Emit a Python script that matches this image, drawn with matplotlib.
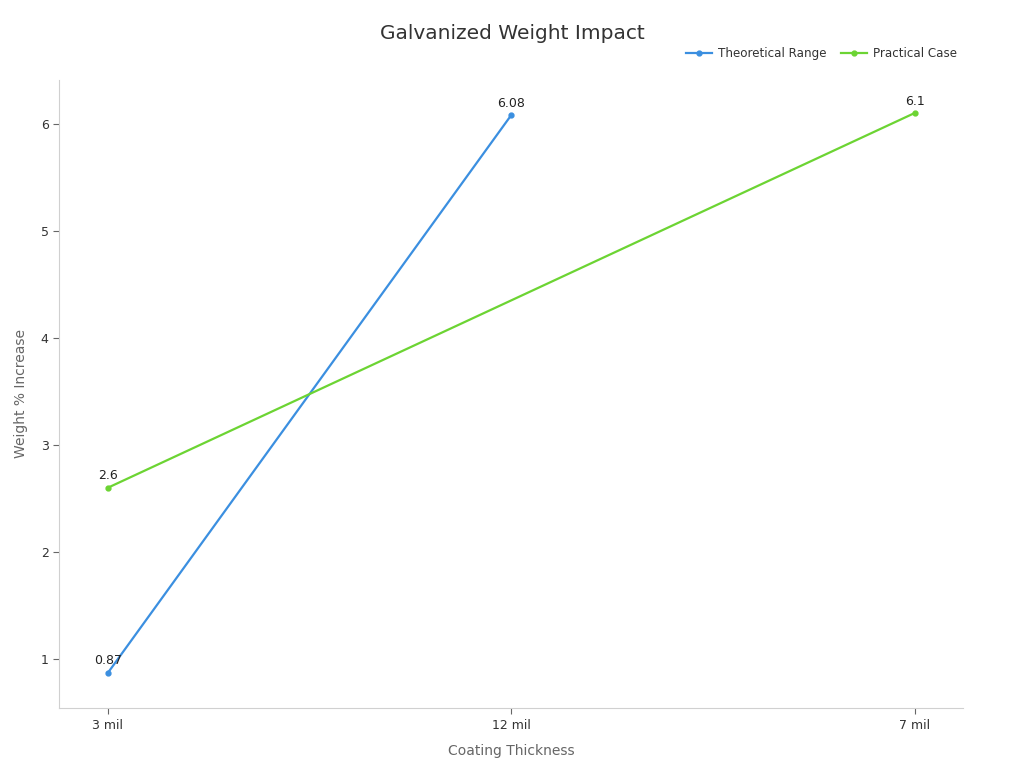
import numpy as np
from matplotlib import pyplot as plt

# Data
categories = ['3 mil', '12 mil', '7 mil']
theoretical = [0.87, 6.08, None]
practical = [2.6, None, 6.1]

blue = '#3b8fe0'
green = '#6cd433'

def points(values):
    xs = [i for i, v in enumerate(values) if v is not None]
    ys = [v for v in values if v is not None]
    return xs, ys

fig = plt.figure(figsize=(10.24, 7.68), dpi=100)
ax = fig.add_axes([0.0576, 0.078, 0.8828, 0.818])

for values, color, name in [(theoretical, blue, 'Theoretical Range'),
                            (practical, green, 'Practical Case')]:
    xs, ys = points(values)
    ax.plot(xs, ys, '-o', color=color, lw=1.6, ms=3.5, label=name)
    for x, y in zip(xs, ys):
        ax.annotate('%g' % y, (x, y), xytext=(0, 4), textcoords='offset points',
                    ha='center', va='bottom', fontsize=9, color='#222222')

ax.set_xticks(range(len(categories)))
ax.set_xticklabels(categories)
ax.set_xlim(-0.121, 2.12)
ax.set_ylim(0.542, 6.41)
ax.set_yticks([1, 2, 3, 4, 5, 6])

for side in ['top', 'right']:
    ax.spines[side].set_visible(False)
for side in ['left', 'bottom']:
    ax.spines[side].set_color('#d0d0d0')
ax.tick_params(colors='#333333', labelsize=9, length=4)
ax.tick_params(axis='both', color='#666666')

ax.set_xlabel('Coating Thickness', color='#666666', fontsize=10, labelpad=9)
ax.set_ylabel('Weight % Increase', color='#666666', fontsize=10, labelpad=9)

fig.text(0.5, 0.957, 'Galvanized Weight Impact', ha='center', va='center',
         fontsize=14.5, color='#333333')
leg = fig.legend(loc='center right', bbox_to_anchor=(0.945, 0.930), ncol=2,
                 frameon=False, fontsize=8.6, handlelength=2.2,
                 columnspacing=1.2, handletextpad=0.5)
for t in leg.get_texts():
    t.set_color('#333333')

plt.savefig('out.png', dpi=100)
